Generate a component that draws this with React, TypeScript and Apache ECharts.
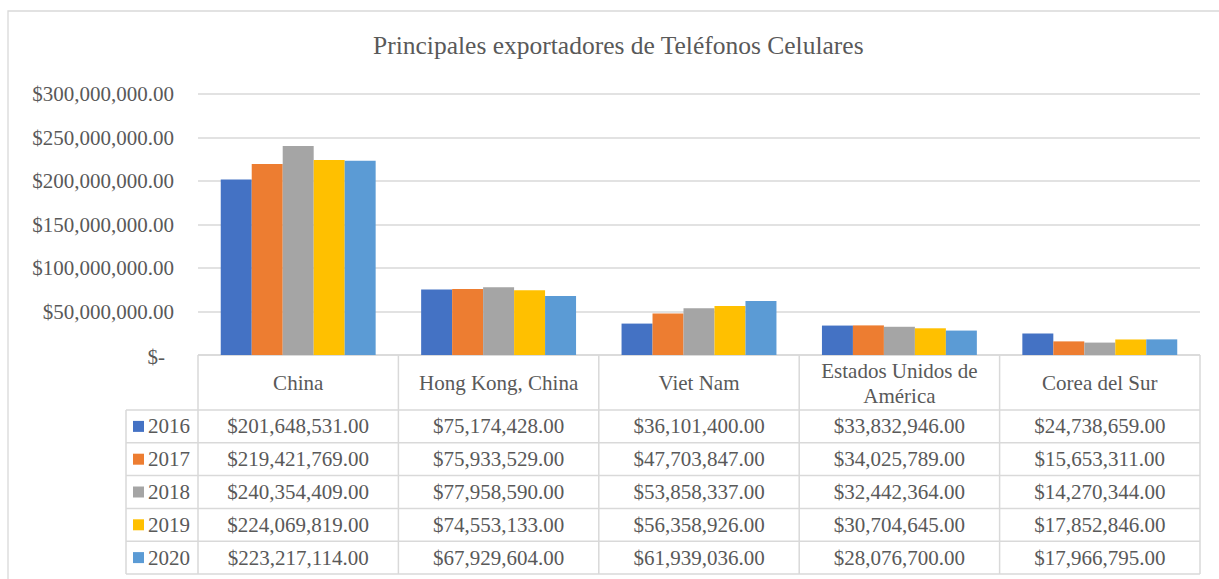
import React, { useEffect, useRef } from "react";
import * as echarts from "echarts";

const title = "Principales exportadores de Teléfonos Celulares";
const categories = ["China", "Hong Kong, China", "Viet Nam", "Estados Unidos de\nAmérica", "Corea del Sur"];
const years = ["2016", "2017", "2018", "2019", "2020"];
const colors = ["#4472C4", "#ED7D31", "#A5A5A5", "#FFC000", "#5B9BD5"];
const v2016 = [201648531, 75174428, 36101400, 33832946, 24738659];
const v2017 = [219421769, 75933529, 47703847, 34025789, 15653311];
const v2018 = [240354409, 77958590, 53858337, 32442364, 14270344];
const v2019 = [224069819, 74553133, 56358926, 30704645, 17852846];
const v2020 = [223217114, 67929604, 61939036, 28076700, 17966795];
const seriesValues = [v2016, v2017, v2018, v2019, v2020];
const yMax = 300000000;
const yInterval = 50000000;

const FONT = "Liberation Serif";
const TXT = "#595959";
const LINE = "#D9D9D9";

const fmt = (v: number) => "$" + v.toLocaleString("en-US") + ".00";

export default function App() {
  const ref = useRef<HTMLDivElement>(null);
  useEffect(() => {
    if (!ref.current) return;
    const chart = echarts.init(ref.current, null, { renderer: "svg" });
    const W = 1219;
    const gridLeft = 198;
    const gridRight = 1200;
    const gridTop = 94;
    const gridBottom = 355;
    const colW = (gridRight - gridLeft) / categories.length;
    const headerBottom = 410;
    const rowH = (574 - headerBottom) / years.length;
    const tableLeft = 126;

    const graphics: any[] = [];
    graphics.push({
      type: "rect",
      shape: { x: 8, y: 11, width: W + 20, height: 600 },
      style: { fill: "none", stroke: LINE, lineWidth: 1.3 },
      silent: true,
    });
    const lineStyle = { stroke: LINE, lineWidth: 1.5 };
    for (let r = 0; r <= years.length; r++) {
      const y = headerBottom + r * rowH;
      graphics.push({ type: "line", shape: { x1: tableLeft, y1: y, x2: gridRight, y2: y }, style: lineStyle, silent: true });
    }
    graphics.push({ type: "line", shape: { x1: gridLeft, y1: gridBottom, x2: gridRight, y2: gridBottom }, style: lineStyle, silent: true });
    graphics.push({ type: "line", shape: { x1: tableLeft, y1: headerBottom, x2: tableLeft, y2: 574 }, style: lineStyle, silent: true });
    for (let c = 0; c <= categories.length; c++) {
      const x = gridLeft + c * colW;
      graphics.push({ type: "line", shape: { x1: x, y1: gridBottom, x2: x, y2: 574 }, style: lineStyle, silent: true });
    }
    years.forEach((yr, r) => {
      const cy = headerBottom + r * rowH + rowH / 2;
      graphics.push({ type: "rect", shape: { x: 133, y: cy - 5.5, width: 11, height: 11 }, style: { fill: colors[r] }, silent: true });
      graphics.push({
        type: "text",
        x: 148,
        y: cy,
        style: { text: yr, font: `21px "${FONT}"`, fill: TXT, align: "left", verticalAlign: "middle" },
        silent: true,
      });
      seriesValues[r].forEach((v, c) => {
        graphics.push({
          type: "text",
          x: gridLeft + c * colW + colW / 2,
          y: cy,
          style: { text: fmt(v), font: `21px "${FONT}"`, fill: TXT, align: "center", verticalAlign: "middle" },
          silent: true,
        });
      });
    });

    chart.setOption({
      animation: false,
      backgroundColor: "#ffffff",
      title: {
        text: title,
        left: 373,
        top: 32,
        padding: 0,
        textStyle: { fontFamily: FONT, fontSize: 25.5, fontWeight: "normal", color: TXT },
      },
      grid: { left: gridLeft, right: W - gridRight, top: gridTop, bottom: 579 - gridBottom, containLabel: false },
      xAxis: {
        type: "category",
        data: categories,
        axisLine: { show: false },
        axisTick: { show: false },
        axisLabel: {
          interval: 0,
          margin: 28,
          verticalAlign: "middle",
          fontFamily: FONT,
          fontSize: 21,
          lineHeight: 25,
          color: TXT,
        },
      },
      yAxis: {
        type: "value",
        min: 0,
        max: yMax,
        interval: yInterval,
        axisLine: { show: false },
        axisTick: { show: false },
        splitLine: { lineStyle: { color: LINE, width: 1.5 } },
        axisLabel: {
          margin: 24,
          fontFamily: FONT,
          fontSize: 21,
          color: TXT,
          formatter: (v: number) => (v === 0 ? "{z|$-}" : fmt(v)),
          rich: { z: { fontFamily: FONT, fontSize: 21, color: TXT, padding: [4, 9, 0, 0] } },
        },
      },
      series: years.map((yr, i) => ({
        name: yr,
        type: "bar",
        data: seriesValues[i],
        barGap: "0%",
        barCategoryGap: "22.7%",
        itemStyle: { color: colors[i] },
      })),
      graphic: graphics,
    });
    return () => chart.dispose();
  }, []);
  return <div ref={ref} style={{ position: "absolute", left: 0, top: 0, width: 1219, height: 579 }} />;
}
